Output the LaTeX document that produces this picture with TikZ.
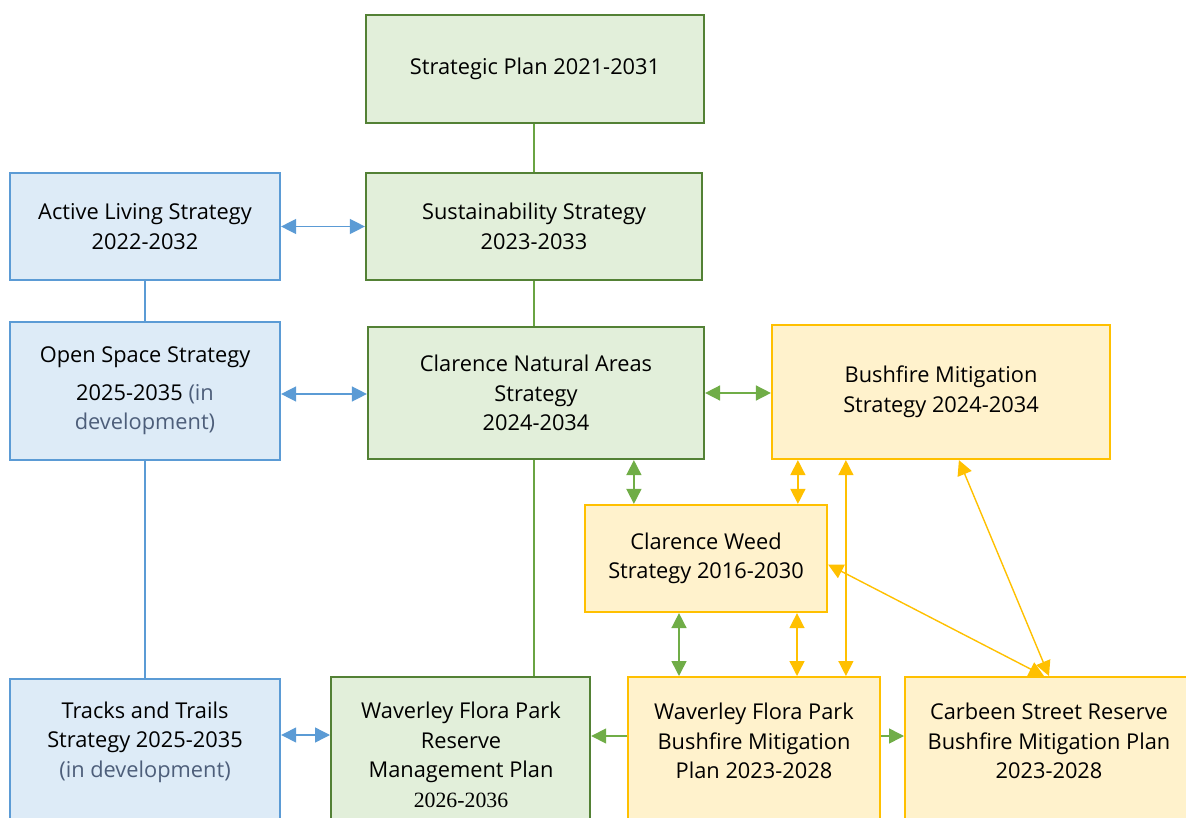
\documentclass[tikz,border=0pt]{standalone}
\usepackage{fontspec}
\setmainfont{Open Sans}
\newfontfamily\yearfont{Liberation Serif}
\usetikzlibrary{arrows.meta}

\definecolor{blueline}{HTML}{5B9BD5}
\definecolor{bluefill}{HTML}{DDEBF7}
\definecolor{greenline}{HTML}{538135}
\definecolor{greenfill}{HTML}{E2EFDA}
\definecolor{greenarrow}{HTML}{70AD47}
\definecolor{yellowline}{HTML}{FFC000}
\definecolor{yellowfill}{HTML}{FFF2CC}
\definecolor{graytext}{HTML}{4D5E7A}

\begin{document}
\begin{tikzpicture}[x=1pt,y=-1pt,
  txt/.style={align=center,inner sep=0pt,font=\fontsize{21.8}{29.5}\selectfont},
  box/.style={txt,draw,line width=2.2pt},
  bluebox/.style={box,draw=blueline,fill=bluefill},
  greenbox/.style={box,draw=greenline,fill=greenfill},
  yellowbox/.style={box,draw=yellowline,fill=yellowfill},
  bluelink/.style={blueline,line width=1.4pt,{Triangle[length=15pt,width=15pt]}-{Triangle[length=15pt,width=15pt]}},
  greenlink/.style={greenarrow,line width=1.6pt,{Triangle[length=15pt,width=15pt]}-{Triangle[length=15pt,width=15pt]}},
  greento/.style={greenarrow,line width=1.6pt,-{Triangle[length=15pt,width=15pt]}},
  yellowlink/.style={yellowline,line width=1.4pt,{Triangle[length=15pt,width=15pt]}-{Triangle[length=15pt,width=15pt]}},
]
\useasboundingbox (0,0) rectangle (1186,818);
\clip (0,0) rectangle (1186,818);

% green column
\node[greenbox,minimum width=338,minimum height=108] (plan) at (535,69) {Strategic Plan 2021-2031};
\node[greenbox,minimum width=336,minimum height=107] (sust) at (534,226.5) {Sustainability Strategy\\2023-2033};
\node[greenbox,minimum width=336,minimum height=132] (cna) at (536,393) {Clarence Natural Areas\\Strategy\\2024-2034};

% blue column
\node[bluebox,minimum width=270,minimum height=107] (active) at (145,226.5) {Active Living Strategy\\2022-2032};
\node[bluebox,minimum width=270,minimum height=138] (open) at (145,391)
  {Open Space Strategy\\[8pt]2025-2035 {\color{graytext}(in}\\{\color{graytext}development)}};

% yellow boxes
\node[yellowbox,minimum width=338,minimum height=134] (bms) at (941,392) {Bushfire Mitigation\\Strategy 2024-2034};
\node[yellowbox,minimum width=242,minimum height=107] (weed) at (706,558.5) {Clarence Weed\\Strategy 2016-2030};

% bottom row, cut by the page edge
\node[bluebox,anchor=north west,minimum width=270,minimum height=170] (tracks) at (9,678) {};
\node[txt] (trackstxt) at (145,742) {Tracks and Trails\\Strategy 2025-2035\\{\color{graytext}(in development)}};
\node[greenbox,anchor=north west,minimum width=259,minimum height=170] (wreserve) at (330,676) {};
\node[txt] (wreservetxt) at (461,755) {Waverley Flora Park\\Reserve\\Management Plan\\{\yearfont 2026-2036}};
\node[yellowbox,anchor=north west,minimum width=252,minimum height=170] (wbush) at (627,676) {};
\node[txt] (wbushtxt) at (754,741) {Waverley Flora Park\\Bushfire Mitigation\\Plan 2023-2028};
\node[yellowbox,anchor=north west,minimum width=300,minimum height=170] (carbeen) at (904,676) {};
\node[txt] (carbeentxt) at (1049,741) {Carbeen Street Reserve\\Bushfire Mitigation Plan\\2023-2028};

% hierarchy lines
\draw[greenarrow!80!greenline,line width=1.8pt] (plan.south -| sust) -- (sust.north);
\draw[greenarrow!80!greenline,line width=1.8pt] (sust.south) -- (sust.south |- cna.north);
\draw[greenarrow!80!greenline,line width=1.8pt] (sust.south |- cna.south) -- (sust.south |- wreserve.north);
\draw[blueline,line width=1.3pt] (active.south) -- (open.north);
\draw[blueline,line width=1.3pt] (open.south) -- (open.south |- tracks.north);

% links
\draw[bluelink] (active.east) -- (sust.west);
\draw[bluelink] ([yshift=-3pt]open.east) -- ([yshift=-3pt]open.east -| cna.west);
\draw[bluelink] ([yshift=-57pt]tracks.north east) -- ([yshift=-57pt]tracks.north east -| wreserve.west);
\draw[greenlink] (cna.east) -- (cna.east -| bms.west);
\draw[greenlink] ([xshift=50pt]weed.north west |- cna.south) -- ([xshift=50pt]weed.north west);
\draw[greenlink] ([xshift=52pt]wbush.north west |- weed.south) -- ([xshift=52pt]wbush.north west);
\draw[greento] ([yshift=-60pt]wbush.north west) -- ([yshift=-60pt]wreserve.north east);
\draw[greento] ([yshift=-60pt]wbush.north east) -- ([yshift=-60pt]carbeen.north west);
\draw[yellowlink] ([xshift=27pt]bms.south west) -- ([xshift=27pt]bms.south west |- weed.north);
\draw[yellowlink] ([xshift=170pt]wbush.north west |- weed.south) -- ([xshift=170pt]wbush.north west);
\draw[yellowlink] ([xshift=75pt]bms.south west) -- ([xshift=75pt]bms.south west |- wbush.north);
\draw[yellowlink] ([xshift=188pt]bms.south west) -- ([xshift=145pt]carbeen.north west);
\draw[yellowlink] ([yshift=-6pt]weed.east) -- ([xshift=140pt]carbeen.north west);
\end{tikzpicture}
\end{document}
